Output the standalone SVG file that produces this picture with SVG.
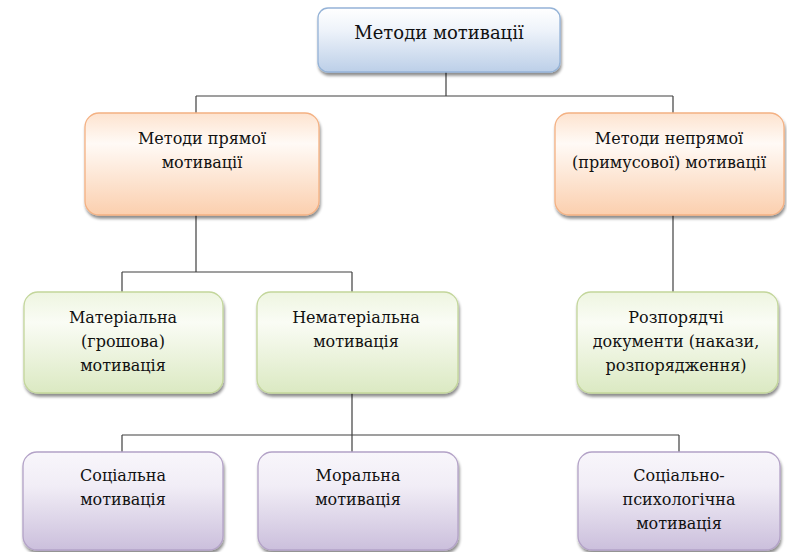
<svg xmlns="http://www.w3.org/2000/svg" width="787" height="552" viewBox="0 0 787 552">
<defs>
<linearGradient id="gBlue" x1="0" y1="0" x2="0" y2="1">
<stop offset="0" stop-color="#ffffff"/><stop offset="0.35" stop-color="#eef3fa"/><stop offset="1" stop-color="#bccfe8"/>
</linearGradient>
<linearGradient id="gOrange" x1="0" y1="0" x2="0" y2="1">
<stop offset="0" stop-color="#fde3cf"/><stop offset="0.3" stop-color="#fffaf6"/><stop offset="1" stop-color="#fbcfae"/>
</linearGradient>
<linearGradient id="gGreen" x1="0" y1="0" x2="0" y2="1">
<stop offset="0" stop-color="#eef5e0"/><stop offset="0.3" stop-color="#fafcf5"/><stop offset="1" stop-color="#dbe9c2"/>
</linearGradient>
<linearGradient id="gPurple" x1="0" y1="0" x2="0" y2="1">
<stop offset="0" stop-color="#f8f6fb"/><stop offset="0.35" stop-color="#f1edf6"/><stop offset="1" stop-color="#cbbfdc"/>
</linearGradient>
<filter id="sh" x="-10%" y="-10%" width="125%" height="130%">
<feGaussianBlur in="SourceAlpha" stdDeviation="1.5"/>
<feOffset dx="1" dy="2.5" result="o"/>
<feComponentTransfer><feFuncA type="linear" slope="0.45"/></feComponentTransfer>
<feMerge><feMergeNode/><feMergeNode in="SourceGraphic"/></feMerge>
</filter>
</defs>
<style>
.box{stroke-width:1.3;filter:url(#sh)}
.blue{fill:url(#gBlue);stroke:#95b3d7}
.orange{fill:url(#gOrange);stroke:#f4b183}
.green{fill:url(#gGreen);stroke:#c3d69b}
.purple{fill:url(#gPurple);stroke:#b3a2c7}
.t{font-family:'DejaVu Serif',serif;font-size:16px;fill:#111;text-anchor:middle}
.big{font-size:18px}
.conn{fill:none;stroke:#404040;stroke-width:1.2}
</style>
<g id="connectors">
<path class="conn" d="M446 72V96M196 96H673M196 96V113M673 96V113"/>
<path class="conn" d="M196 215V272M122 272H352M122 272V292M352 272V292"/>
<path class="conn" d="M673 215V292"/>
<path class="conn" d="M352 393V435M122 435H679M122 435V452M352 435V452M679 435V452"/>
</g>
<g id="n-root">
<rect class="box blue" x="318" y="8" width="242" height="64" rx="10"/>
<text class="t big" x="439" y="39">Методи мотивації</text>
</g>
<g id="n-direct">
<rect class="box orange" x="85" y="113" width="234" height="102" rx="14"/>
<text class="t" x="202" y="144">Методи прямої</text>
<text class="t" x="202" y="168">мотивації</text>
</g>
<g id="n-indirect">
<rect class="box orange" x="555" y="113" width="229" height="102" rx="14"/>
<text class="t" x="669" y="144">Методи непрямої</text>
<text class="t" x="669" y="168">(примусової) мотивації</text>
</g>
<g id="n-material">
<rect class="box green" x="24" y="292" width="199" height="101" rx="14"/>
<text class="t" x="123" y="323">Матеріальна</text>
<text class="t" x="123" y="347">(грошова)</text>
<text class="t" x="123" y="371">мотивація</text>
</g>
<g id="n-nonmaterial">
<rect class="box green" x="257" y="292" width="201" height="101" rx="14"/>
<text class="t" x="356" y="323">Нематеріальна</text>
<text class="t" x="356" y="347">мотивація</text>
</g>
<g id="n-orders">
<rect class="box green" x="577" y="292" width="201" height="101" rx="14"/>
<text class="t" x="676" y="323">Розпорядчі</text>
<text class="t" x="676" y="347">документи (накази,</text>
<text class="t" x="676" y="371">розпорядження)</text>
</g>
<g id="n-social">
<rect class="box purple" x="23" y="452" width="200" height="98" rx="14"/>
<text class="t" x="123" y="481">Соціальна</text>
<text class="t" x="123" y="505">мотивація</text>
</g>
<g id="n-moral">
<rect class="box purple" x="258" y="452" width="200" height="98" rx="14"/>
<text class="t" x="358" y="481">Моральна</text>
<text class="t" x="358" y="505">мотивація</text>
</g>
<g id="n-socpsych">
<rect class="box purple" x="578" y="452" width="202" height="98" rx="14"/>
<text class="t" x="679" y="481">Соціально-</text>
<text class="t" x="679" y="505">психологічна</text>
<text class="t" x="679" y="529">мотивація</text>
</g>
</svg>
